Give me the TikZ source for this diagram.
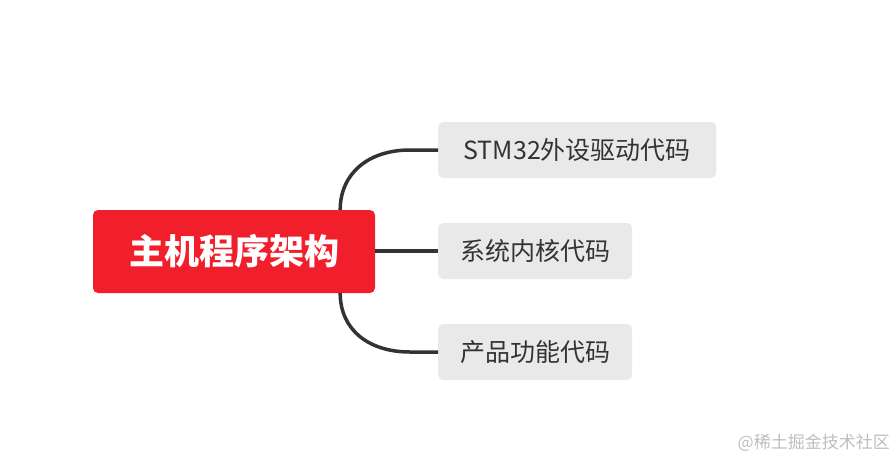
\documentclass[tikz,border=0pt]{standalone}
\usepackage{fontspec}
\newfontfamily\cjk{Noto Sans CJK SC}
\usetikzlibrary{positioning}
\definecolor{rootred}{RGB}{241,30,44}
\definecolor{leafgray}{RGB}{233,233,233}
\definecolor{inkgray}{RGB}{51,51,51}
\definecolor{markgray}{RGB}{190,190,190}
\begin{document}
\begin{tikzpicture}[x=1pt, y=-1pt,
    rootbox/.style={fill=rootred, rounded corners=5pt, minimum width=282pt,
      minimum height=83pt, text=white, font=\cjk\bfseries\fontsize{35}{40}\selectfont},
    leafbox/.style={fill=leafgray, rounded corners=5pt, minimum height=56pt,
      inner xsep=22pt, anchor=west, text=inkgray, font=\cjk\fontsize{25}{30}\selectfont},
    link/.style={draw=inkgray, line width=3.5pt}]
  % Canvas
  \useasboundingbox (0,0) rectangle (895,461);
  % Root node
  \node[rootbox] (root) at (234,251.5) {主机程序架构};
  % Leaf nodes
  \node[leafbox, minimum width=278pt] (drv) at (438,150) {STM32外设驱动代码};
  \node[leafbox] (core) at (438,251) {系统内核代码};
  \node[leafbox] (app) at (438,352) {产品功能代码};
  % Branches
  \draw[link] ([xshift=-35pt]root.north east) .. controls +(0,-36)
    and ([xshift=-70pt]drv.west) .. ([xshift=-28pt]drv.west) -- (drv.west);
  \draw[link] (root.east |- core.west) -- (core.west);
  \draw[link] ([xshift=-35pt]root.south east) .. controls +(0,36)
    and ([xshift=-70pt]app.west) .. ([xshift=-28pt]app.west) -- (app.west);
  % Watermark
  \node[anchor=east, text=markgray, font=\cjk\fontsize{17}{20}\selectfont, inner sep=0pt]
    (mark) at (890,443) {@稀土掘金技术社区};
\end{tikzpicture}
\end{document}
